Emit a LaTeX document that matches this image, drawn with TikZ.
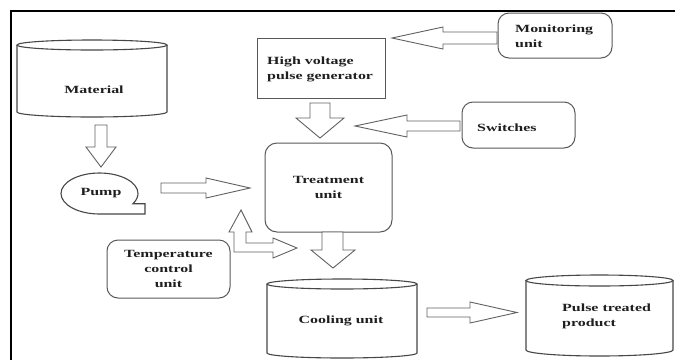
\documentclass[tikz,border=0pt]{standalone}
\usepackage{fontspec}
\setmainfont{Liberation Serif}
\newfontfamily\lblfont{Liberation Serif}[FakeStretch=1.45]
\begin{document}
\begin{tikzpicture}[x=1pt,y=-1pt,
  lbl/.style={font=\lblfont\bfseries\fontsize{11}{15}\selectfont, text=black!88, inner sep=0pt},
  boxshape/.style={draw=black!65, line width=1pt, fill=white, inner sep=0pt},
  rboxshape/.style={boxshape, rounded corners=11pt},
  barrow/.style={draw=black!62, line width=0.9pt, fill=white, line join=miter},
  cyl/.style={draw=black!72, line width=1.1pt},
  frameline/.style={draw=black, line width=1.3pt}]
\useasboundingbox (0,0) rectangle (675,360);
\fill[white] (0,0) rectangle (675,360);

% frame
\draw[frameline] (11,360) -- (11,11) -- (675,11);

% Material cylinder
\draw[cyl] (17,45) -- (17,112) arc[start angle=180,end angle=0,x radius=75,y radius=5] -- (167,45);
\draw[cyl] (92,45) ellipse [x radius=75, y radius=5];
\node[lbl] (material) at (94,90) {Material};

% Pump
\draw[cyl] (99.5,214) arc[start angle=90,end angle=390,x radius=38.5,y radius=20.5] -- (145,203.75) -- (145,214) -- cycle;
\node[lbl] (pump) at (101,193) {Pump};

% High voltage pulse generator
\node[boxshape, minimum width=128pt, minimum height=60pt] (hv) at (321,68) {};
\node[lbl, anchor=west, align=left] (hvtext) at (267,69) {High voltage\\pulse generator};

% Monitoring unit
\node[rboxshape, minimum width=114pt, minimum height=45pt] (mon) at (555,35.5) {};
\node[lbl, anchor=west, align=left] (montext) at (515,36) {Monitoring\\unit};

% Switches
\node[rboxshape, minimum width=113pt, minimum height=46pt] (sw) at (518.5,125) {};
\node[lbl, anchor=west] (swtext) at (477,127.5) {Switches};

% Treatment unit
\node[rboxshape, rounded corners=12pt, minimum width=127pt, minimum height=89pt, lbl, align=center] (treat) at (328.5,187.5) {Treatment\\unit};

% Temperature control unit
\node[rboxshape, minimum width=123pt, minimum height=58pt, lbl, align=center] (temp) at (168.5,269) {Temperature\\control\\unit};

% Cooling unit cylinder
\draw[cyl] (267,284) -- (267,353) arc[start angle=180,end angle=0,x radius=75,y radius=5] -- (417,284);
\draw[cyl] (342,284) ellipse [x radius=75, y radius=5];
\node[lbl] (cool) at (341,321) {Cooling unit};

% Pulse treated product cylinder
\draw[cyl] (526,280.5) -- (526,350) arc[start angle=180,end angle=0,x radius=73.5,y radius=6] -- (673,280.5);
\draw[cyl] (599.5,280.5) ellipse [x radius=73.5, y radius=5.5];
\node[lbl, anchor=west, align=left] (prod) at (562,316) {Pulse treated\\product};

% block arrows
% Material -> Pump
\draw[barrow] (95,125) -- (107,125) -- (107,147) -- (116,147) -- (101,167) -- (86,147) -- (95,147) -- cycle;
% HV -> Treatment
\draw[barrow] (310,103) -- (330,103) -- (330,118) -- (344,118) -- (320,138) -- (296,118) -- (310,118) -- cycle;
% Monitoring -> HV
\draw[barrow] (497,32) -- (497,44) -- (443,44) -- (443,49) -- (392,38) -- (443,27) -- (443,32) -- cycle;
% Switches -> Treatment
\draw[barrow] (460,121) -- (460,131) -- (407,131) -- (407,137) -- (355,126) -- (407,115) -- (407,121) -- cycle;
% Pump -> Treatment
\draw[barrow] (161,183) -- (206,183) -- (206,178) -- (250,188) -- (206,198) -- (206,193) -- (161,193) -- cycle;
% Temperature double (L) arrow
\draw[barrow] (241,210) -- (252,232) -- (246,232) -- (246,243) -- (273,243) -- (273,238) -- (297,248) -- (273,258) -- (273,252) -- (234,252) -- (234,232) -- (229,232) -- cycle;
% Treatment -> Cooling
\draw[barrow] (322,232) -- (343,232) -- (343,250) -- (355,250) -- (333,268) -- (311,250) -- (322,250) -- cycle;
% Cooling -> Product
\draw[barrow] (427,308) -- (470,308) -- (470,302) -- (517,312.5) -- (470,323) -- (470,317) -- (427,317) -- cycle;
\end{tikzpicture}
\end{document}
